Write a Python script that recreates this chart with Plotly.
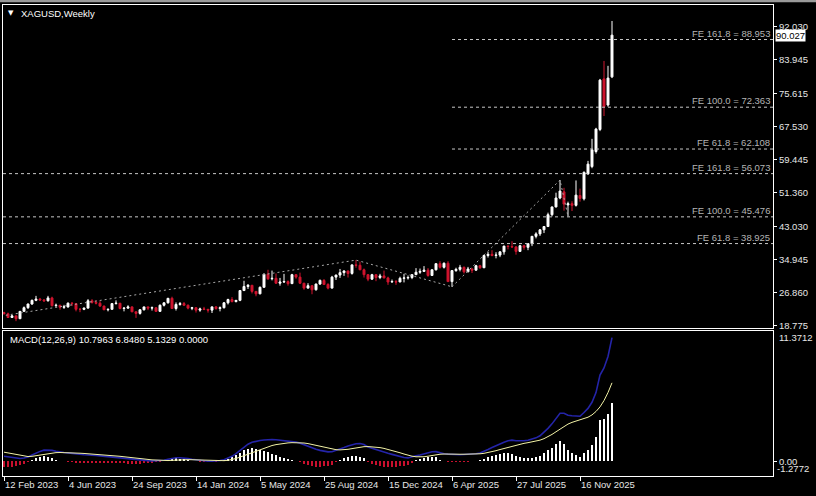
import plotly.graph_objects as go

# ---------------- data (weekly bars, 12 Feb 2023 .. 11 Jan 2026) ----------------
weeks = list(range(153))

open_ = [
    22.0, 21.7, 20.8, 21.2, 20.5, 22.3, 23.2, 24.1, 25.0, 25.3, 25.1, 24.9, 25.6, 23.7, 23.8, 23.3,
    23.4, 24.3, 24.2, 22.8, 22.8, 23.1, 24.9, 24.5, 24.3, 23.6, 22.7, 22.8, 24.2, 24.3, 23.0, 23.1,
    23.4, 22.2, 21.8, 22.7, 23.4, 23.1, 23.2, 22.3, 23.8, 24.4, 25.5, 23.0, 24.0, 24.2, 23.8,
    23.05, 23.2, 22.6, 22.9, 22.8, 22.6, 23.4, 23.0, 23.2, 24.4, 25.2, 24.7, 25.0, 27.4, 28.4, 28.7,
    27.2, 26.6, 28.2, 31.4, 30.3, 30.4, 29.2, 29.5, 29.6, 29.1, 31.3, 30.7, 29.2, 28.0, 28.6, 27.6,
    29.0, 29.9, 28.9, 28.0, 30.7, 31.2, 31.8, 32.2, 31.6, 33.7, 33.6, 32.5, 31.3, 30.2, 31.3, 30.6,
    31.0, 30.5, 29.5, 29.6,
    29.5, 30.4, 30.5, 30.6, 31.3, 31.9, 32.1, 32.4, 31.1, 32.5, 34.0, 33.1, 34.1, 29.6, 32.3, 32.6,
    33.1, 32.0, 32.7, 32.4, 33.5, 33.0, 36.0, 36.3, 36.0, 36.1, 36.9, 38.3, 38.2, 38.1, 37.0, 38.4,
    38.0, 38.9, 40.7, 41.3, 42.3, 43.1, 46.0, 47.9, 50.1, 51.6, 48.4, 48.7, 48.3, 50.7, 49.9, 56.0,
    57.8, 61.5, 66.9, 79.3, 72.9, 79.8,
]
high = [
    22.2, 22.0, 21.4, 21.2, 22.3, 23.5, 24.2, 25.2, 26.1, 25.6, 25.3, 26.1, 25.9, 24.2, 23.9, 23.9,
    24.5, 24.6, 24.3, 23.1, 23.2, 25.3, 25.3, 25.0, 24.8, 23.7, 23.0, 24.3, 25.0, 24.3, 23.3, 23.8,
    23.5, 22.2, 22.8, 23.4, 23.4, 23.5, 23.2, 24.0, 24.5, 25.6, 25.9, 24.5, 24.6, 24.6, 24.0,
    23.4, 23.3, 23.2, 23.4, 22.9, 23.5, 23.6, 23.5, 24.6, 25.4, 25.8, 25.1, 27.5, 29.8, 29.0, 28.7,
    27.2, 28.4, 31.6, 32.5, 32.3, 31.6, 30.5, 31.5, 29.9, 31.5, 31.4, 31.8, 29.3, 29.2, 28.7, 29.1,
    30.1, 30.2, 29.2, 31.0, 31.3, 32.7, 32.4, 32.3, 33.8, 34.9, 34.5, 32.8, 31.4, 31.5, 31.3, 31.5,
    32.3, 30.8, 30.1, 30.0,
    30.8, 31.5, 31.1, 31.3, 32.9, 32.8, 33.4, 32.9, 32.6, 34.0, 34.6, 34.3, 34.6, 32.4, 33.0, 33.7,
    33.3, 33.2, 32.9, 33.7, 33.7, 36.2, 36.9, 37.3, 36.8, 37.0, 38.4, 38.5, 39.5, 38.3, 38.6, 38.6,
    39.0, 40.8, 41.7, 42.5, 43.2, 46.5, 48.0, 51.4, 54.5, 52.6, 49.2, 49.3, 54.4, 52.4, 56.6, 59.2,
    64.6, 67.3, 79.3, 83.7, 82.5, 93.5,
]
low = [
    21.6, 20.7, 20.7, 19.9, 20.5, 22.3, 22.9, 23.9, 24.8, 24.9, 24.6, 24.7, 23.5, 23.4, 22.7, 22.9,
    23.2, 23.6, 22.3, 22.1, 22.6, 23.0, 24.2, 24.0, 23.4, 22.6, 22.3, 22.8, 24.0, 22.8, 22.3, 22.9,
    22.1, 20.7, 21.5, 22.5, 22.6, 22.5, 22.2, 22.2, 23.5, 24.2, 22.9, 22.5, 23.7, 23.8, 22.8,
    22.6, 22.0, 22.2, 22.6, 22.0, 21.9, 22.7, 22.3, 23.0, 24.0, 24.5, 24.5, 24.8, 27.3, 27.8, 26.7,
    26.0, 26.5, 28.1, 30.0, 29.9, 29.1, 28.6, 29.3, 28.6, 29.0, 30.3, 29.0, 27.6, 27.9, 26.5, 27.4,
    28.8, 28.9, 27.7, 27.9, 30.0, 30.5, 31.0, 30.6, 31.3, 33.0, 32.4, 30.6, 29.7, 30.0, 29.7, 30.2,
    30.4, 28.8, 29.4, 28.8,
    29.5, 29.4, 30.1, 30.2, 31.2, 31.5, 32.0, 30.8, 31.0, 32.3, 32.8, 32.8, 29.6, 28.3, 32.0, 32.1,
    31.6, 31.9, 31.7, 32.3, 32.7, 32.9, 35.5, 35.8, 35.3, 35.6, 36.2, 37.5, 37.9, 36.2, 36.9, 37.4,
    37.3, 38.3, 40.2, 40.8, 41.5, 43.0, 45.6, 47.8, 49.8, 47.0, 45.6, 46.9, 48.0, 49.2, 49.5, 55.8,
    57.4, 61.0, 66.5, 70.2, 72.5, 79.5,
]
close = [
    21.7, 20.8, 21.2, 20.5, 22.3, 23.2, 24.1, 25.0, 25.3, 25.1, 24.9, 25.6, 23.7, 23.8, 23.3, 23.4,
    24.3, 24.2, 22.8, 22.8, 23.1, 24.9, 24.5, 24.3, 23.6, 22.7, 22.8, 24.2, 24.3, 23.0, 23.1, 23.4,
    22.2, 21.8, 22.7, 23.4, 23.1, 23.2, 22.3, 23.8, 24.4, 25.5, 23.0, 24.0, 24.2, 23.8, 23.1,
    23.2, 22.6, 22.9, 22.8, 22.6, 23.4, 23.0, 23.2, 24.4, 25.2, 24.7, 25.0, 27.4, 28.4, 28.7, 27.2,
    26.6, 28.2, 31.4, 30.3, 30.4, 29.2, 29.5, 29.6, 29.1, 31.3, 30.7, 29.2, 28.0, 28.6, 27.6, 29.0,
    29.9, 28.9, 28.0, 30.7, 31.2, 31.8, 32.2, 31.6, 33.7, 33.6, 32.5, 31.3, 30.2, 31.3, 30.6, 31.0,
    30.5, 29.5, 29.6, 29.5,
    30.4, 30.5, 30.6, 31.3, 31.9, 32.1, 32.4, 31.1, 32.5, 34.0, 33.1, 34.1, 29.6, 32.3, 32.6, 33.1,
    32.0, 32.7, 32.4, 33.5, 33.0, 36.0, 36.3, 36.0, 36.1, 36.9, 38.3, 38.2, 38.1, 37.0, 38.4, 38.0,
    38.9, 40.7, 41.3, 42.3, 43.1, 46.0, 47.9, 50.1, 51.8, 48.6, 48.7, 48.3, 50.8, 50.0, 56.4, 58.4,
    61.9, 67.0, 79.0, 72.5, 79.5, 90.027,
]

macd_main = [
    0.45, 0.39, 0.33, 0.28, 0.25, 0.30, 0.38, 0.56, 0.73, 0.87, 0.98, 1.00, 0.96, 0.88, 0.81, 0.77,
    0.74, 0.69, 0.64, 0.60, 0.58, 0.56, 0.56, 0.52, 0.48, 0.44, 0.40, 0.38, 0.36, 0.32, 0.27, 0.22,
    0.16, 0.12, 0.10, 0.07, 0.06, 0.04, 0.04, 0.05, 0.10, 0.19, 0.26, 0.31, 0.31, 0.29, 0.24, 0.18,
    0.13, 0.07, 0.03, 0.01, 0.01, 0.03, 0.07, 0.14, 0.26, 0.44, 0.67, 0.95, 1.23, 1.50, 1.66, 1.75,
    1.82, 1.86, 1.90, 1.90, 1.88, 1.85, 1.81, 1.76, 1.72, 1.68, 1.59, 1.45, 1.30, 1.16, 1.05, 0.96,
    0.88, 0.83, 0.84, 0.94, 1.08, 1.20, 1.34, 1.46, 1.54, 1.55, 1.47, 1.25, 1.13, 1.00, 0.89, 0.78,
    0.70, 0.61, 0.51, 0.41, 0.33, 0.30, 0.36, 0.48, 0.55, 0.65, 0.74, 0.84, 0.85, 0.74, 0.67, 0.63,
    0.60, 0.58, 0.58, 0.60, 0.61, 0.63, 0.66, 0.72, 0.85, 1.03, 1.21, 1.38, 1.53, 1.67, 1.79, 1.85,
    1.80, 1.79, 1.80, 1.84, 1.92, 2.05, 2.23, 2.52, 2.88, 3.27, 3.73, 4.19, 4.20, 4.02, 3.98, 3.94,
    3.93, 4.26, 4.62, 5.15, 6.00, 7.52, 8.15, 9.15, 10.7963,
]
macd_signal = [
    0.80, 0.74, 0.68, 0.60, 0.52, 0.45, 0.42, 0.44, 0.50, 0.56, 0.62, 0.68, 0.73, 0.76, 0.77, 0.77,
    0.76, 0.75, 0.73, 0.71, 0.69, 0.67, 0.65, 0.62, 0.59, 0.56, 0.53, 0.50, 0.47, 0.44, 0.41, 0.37,
    0.33, 0.29, 0.25, 0.21, 0.17, 0.13, 0.10, 0.07, 0.06, 0.07, 0.09, 0.12, 0.14, 0.15, 0.15, 0.14,
    0.13, 0.11, 0.09, 0.07, 0.06, 0.05, 0.05, 0.06, 0.09, 0.15, 0.25, 0.37, 0.50, 0.64, 0.78, 0.92,
    1.05, 1.17, 1.28, 1.38, 1.46, 1.53, 1.58, 1.61, 1.63, 1.64, 1.63, 1.60, 1.55, 1.48, 1.40, 1.31,
    1.22, 1.14, 1.07, 1.02, 1.00, 1.01, 1.05, 1.11, 1.18, 1.24, 1.28, 1.29, 1.28, 1.25, 1.20, 1.13,
    1.05, 0.96, 0.86, 0.75, 0.64, 0.53, 0.45, 0.40, 0.38, 0.40, 0.45, 0.52, 0.58, 0.62, 0.64, 0.65,
    0.64, 0.63, 0.62, 0.62, 0.62, 0.63, 0.64, 0.66, 0.70, 0.76, 0.84, 0.93, 1.03, 1.13, 1.23, 1.33,
    1.42, 1.50, 1.57, 1.63, 1.69, 1.76, 1.85, 1.98, 2.15, 2.35, 2.58, 2.82, 3.05, 3.25, 3.40, 3.52,
    3.62, 3.72, 3.85, 4.05, 4.35, 4.75, 5.30, 6.00, 6.8480,
]
macd_hist = [
    -0.45, -0.46, -0.45, -0.42, -0.35, -0.20, -0.05, 0.15, 0.30, 0.40, 0.47, 0.42, 0.30, 0.15, 0.05, 0.00,
    -0.03, -0.08, -0.12, -0.14, -0.15, -0.14, -0.12, -0.13, -0.15, -0.16, -0.17, -0.16, -0.15, -0.16, -0.18, -0.20,
    -0.22, -0.22, -0.20, -0.18, -0.15, -0.12, -0.08, -0.03, 0.05, 0.15, 0.22, 0.25, 0.22, 0.18, 0.12, 0.05,
    0.00, -0.05, -0.08, -0.08, -0.06, -0.03, 0.02, 0.10, 0.22, 0.38, 0.55, 0.75, 0.95, 1.12, 1.14, 1.08,
    1.00, 0.90, 0.80, 0.68, 0.55, 0.42, 0.30, 0.20, 0.12, 0.05, -0.05, -0.20, -0.32, -0.42, -0.46, -0.46,
    -0.44, -0.40, -0.30, -0.10, 0.10, 0.25, 0.38, 0.45, 0.47, 0.40, 0.25, -0.05, -0.20, -0.32, -0.40, -0.45,
    -0.46, -0.46, -0.45, -0.44, -0.40, -0.30, -0.12, 0.10, 0.22, 0.32, 0.38, 0.41, 0.35, 0.15, 0.04, -0.03,
    -0.05, -0.06, -0.05, -0.03, -0.02, 0.00, 0.03, 0.08, 0.20, 0.35, 0.48, 0.58, 0.65, 0.70, 0.73, 0.68,
    0.50, 0.38, 0.30, 0.27, 0.30, 0.38, 0.50, 0.70, 0.95, 1.20, 1.50, 1.78, 1.50, 1.00, 0.75, 0.55,
    0.40, 0.70, 1.00, 1.43, 2.15, 3.60, 3.70, 4.10, 5.1329,
]

date_tick_idx = [0, 16, 32, 48, 64, 80, 96, 112, 128, 144]
date_tick_text = ["12 Feb 2023", "4 Jun 2023", "24 Sep 2023", "14 Jan 2024", "5 May 2024",
                  "25 Aug 2024", "15 Dec 2024", "6 Apr 2025", "27 Jul 2025", "16 Nov 2025"]
price_ticks = [92.030, 83.945, 75.615, 67.530, 59.445, 51.360, 43.030, 34.945, 26.860, 18.775]
price_tick_text = ["92.030", "83.945", "75.615", "67.530", "59.445", "51.360", "43.030",
                   "34.945", "26.860", "18.775"]

# Fibonacci expansion objects
fe1_x = [-23, 88, 112]
fe1_y = [17.72, 34.87, 28.33]
fe2_x = [112, 139, 141]
fe2_y = [28.33, 54.5, 45.6]
fe_levels = [88.953, 72.363, 62.108, 56.073, 45.476, 38.925]
fe_names = ["FE 161.8", "FE 100.0", "FE 61.8", "FE 161.8", "FE 100.0", "FE 61.8"]
fe_start = [112, 112, 112, -23, -23, -23]
last_price = 90.027
macd_title = "MACD(12,26,9) 10.7963 6.8480 5.1329 0.0000"

# ---------------- figure ----------------
FONT = "Liberation Sans"
XMIN, XMAX = -0.25, 192.25
RED = "#D0142E"

fig = go.Figure()

fig.add_trace(go.Candlestick(
    x=weeks, open=open_, high=high, low=low, close=close,
    increasing=dict(line=dict(color="#FFFFFF", width=1), fillcolor="#FFFFFF"),
    decreasing=dict(line=dict(color=RED, width=1), fillcolor=RED),
    whiskerwidth=0, hoverinfo="skip", xaxis="x", yaxis="y",
))

for zx, zy in ((fe1_x, fe1_y), (fe2_x, fe2_y)):
    fig.add_trace(go.Scatter(x=zx, y=zy, mode="lines",
                             line=dict(color="#A8A8A8", width=1, dash="2px,3px"),
                             hoverinfo="skip", xaxis="x", yaxis="y"))

fig.add_trace(go.Bar(
    x=weeks, y=macd_hist, width=0.3,
    marker=dict(color=["#FFFFFF" if v >= 0 else "#C8102E" for v in macd_hist], line=dict(width=0)),
    hoverinfo="skip", xaxis="x2", yaxis="y2",
))
fig.add_trace(go.Scatter(x=weeks, y=macd_main, mode="lines",
                         line=dict(color="#2424A8", width=1.6),
                         hoverinfo="skip", xaxis="x2", yaxis="y2"))
fig.add_trace(go.Scatter(x=weeks, y=macd_signal, mode="lines",
                         line=dict(color="#F2F2A6", width=1),
                         hoverinfo="skip", xaxis="x2", yaxis="y2"))

shapes = []
for lvl, xs in zip(fe_levels, fe_start):
    shapes.append(dict(type="line", xref="x", yref="y", x0=max(xs, XMIN), x1=XMAX, y0=lvl, y1=lvl,
                       line=dict(color="#C8C8C8", width=1, dash="3px,3px"), layer="above"))
# top grey band of the window frame
shapes.append(dict(type="rect", xref="paper", yref="paper", x0=-0.01, x1=1.06,
                   y0=1.006, y1=1.02, fillcolor="#9A9A9A", line=dict(width=0)))

ann = []
for name, lvl in zip(fe_names, fe_levels):
    ann.append(dict(text=f"{name} = {lvl:.3f}", xref="paper", yref="y", x=0.9985, y=lvl,
                    xanchor="right", yanchor="bottom", yshift=-1, showarrow=False,
                    font=dict(family=FONT, size=9.5, color="#B4B4B4")))
for idx, txt in zip(date_tick_idx, date_tick_text):
    ann.append(dict(text=txt, xref="x2", yref="paper", x=idx, y=-0.019, xanchor="left",
                    yanchor="middle", xshift=-1, showarrow=False,
                    font=dict(family=FONT, size=9.5, color="#E6E6E6")))
ann.append(dict(text="▼", xref="paper", yref="paper", x=0.0105, y=0.983, xanchor="center",
                yanchor="middle", showarrow=False, font=dict(family="DejaVu Sans", size=7, color="#FFFFFF")))
ann.append(dict(text="XAGUSD,Weekly", xref="paper", yref="paper", x=0.0205, y=0.983,
                xanchor="left", yanchor="middle", showarrow=False,
                font=dict(family=FONT, size=9.5, color="#FFFFFF")))
ann.append(dict(text=macd_title, xref="paper", yref="paper", x=0.0062, y=0.289,
                xanchor="left", yanchor="middle", showarrow=False,
                font=dict(family=FONT, size=9.5, color="#FFFFFF")))
ann.append(dict(text=f"{last_price:.3f}", xref="paper", yref="y", x=1, y=last_price,
                xanchor="left", yanchor="middle", xshift=2, showarrow=False,
                bgcolor="#FFFFFF", borderpad=0,
                font=dict(family=FONT, size=9.5, color="#000000")))
ann.append(dict(text="11.3712", xref="paper", yref="y2", x=1, y=10.76, xanchor="left",
                yanchor="middle", xshift=4, showarrow=False,
                font=dict(family=FONT, size=9.5, color="#E6E6E6")))
ann.append(dict(text="-1.2772", xref="paper", yref="y2", x=1, y=-0.6, xanchor="left",
                yanchor="middle", xshift=2, showarrow=False,
                font=dict(family=FONT, size=9.5, color="#E6E6E6")))

axis_common = dict(showgrid=False, zeroline=False, showline=True, mirror=True,
                   linecolor="#FFFFFF", linewidth=1)

fig.update_layout(
    width=816, height=496,
    margin=dict(l=3, r=43, t=5, b=20),
    paper_bgcolor="#000000", plot_bgcolor="#000000",
    showlegend=False, hovermode=False, bargap=0,
    font=dict(family=FONT, size=9.5, color="#E6E6E6"),
    xaxis=dict(domain=[0, 1], anchor="y", range=[XMIN, XMAX], showticklabels=False, ticks="",
               rangeslider=dict(visible=False), **axis_common),
    xaxis2=dict(domain=[0, 1], anchor="y2", range=[XMIN, XMAX], matches="x",
                tickmode="array", tickvals=date_tick_idx, showticklabels=False,
                ticks="outside", ticklen=4, tickcolor="#FFFFFF", **axis_common),
    yaxis=dict(domain=[0.3142, 1], anchor="x", side="right", range=[18.22, 97.42],
               tickmode="array", tickvals=price_ticks, ticktext=price_tick_text,
               ticks="outside", ticklen=3, tickcolor="#FFFFFF", automargin=False,
               tickfont=dict(family=FONT, size=9.5, color="#E6E6E6"), **axis_common),
    yaxis2=dict(domain=[0, 0.3079], anchor="x2", side="right", range=[-1.2772, 11.3712],
                tickmode="array", tickvals=[0], ticktext=["0.00"], automargin=False,
                ticks="outside", ticklen=3, tickcolor="#FFFFFF",
                tickfont=dict(family=FONT, size=9.5, color="#E6E6E6"), **axis_common),
    shapes=shapes, annotations=ann,
)

fig.write_html(
    "out.html",
    config={"displayModeBar": False, "staticPlot": True},
    post_script="document.body.style.margin='0';document.body.style.background='#000';"
                "document.documentElement.style.overflow='hidden';",
)
